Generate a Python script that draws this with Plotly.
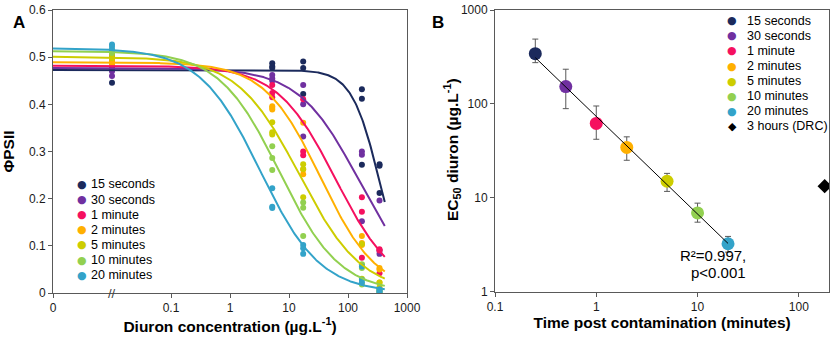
import numpy as np
import plotly.graph_objects as go

W, H = 835, 337
FONT = "Arial, 'Liberation Sans', sans-serif"
AXIS_COLOR = "#595959"

# ---------------- shared series info ----------------
series_names = ["15 seconds", "30 seconds", "1 minute", "2 minutes",
                "5 minutes", "10 minutes", "20 minutes"]
series_colors = ["#1b2a5c", "#7030a0", "#f5105f", "#ffb000",
                 "#cdcd00", "#92d050", "#33a3c9"]

# ---------------- Panel A: dose-response ----------------
# control (0 µg/L) is plotted at the axis break position (0.01)
conc_levels = [0.01, 5.2, 17.4, 172, 342]
conc_tick_vals = [0.001, 0.1, 1, 10, 100, 1000]
conc_tick_text = ["0", "0.1", "1", "10", "100", "1000"]
phi_tick_vals = [0, 0.1, 0.2, 0.3, 0.4, 0.5, 0.6]
phi_tick_text = ["0", "0.1", "0.2", "0.3", "0.4", "0.5", "0.6"]

# observed ΦPSII replicates at each concentration level
phi_15s = [[0.491, 0.477, 0.446], [0.487, 0.480, 0.477], [0.491, 0.477, 0.422],
           [0.432, 0.412, 0.272], [0.273, 0.270, 0.212]]
phi_30s = [[0.479, 0.470, 0.460], [0.462, 0.455, 0.450], [0.441, 0.400, 0.332],
           [0.300, 0.293, 0.152], [0.196, 0.090, 0.083]]
phi_1min = [[0.503, 0.497, 0.480], [0.441, 0.424, 0.415], [0.411, 0.300, 0.292],
            [0.203, 0.172, 0.075], [0.093, 0.090, 0.042]]
phi_2min = [[0.495, 0.490, 0.485], [0.396, 0.393, 0.389], [0.361, 0.262, 0.252],
            [0.121, 0.106, 0.102], [0.053, 0.050, 0.022]]
phi_5min = [[0.512, 0.505, 0.498], [0.362, 0.341, 0.336], [0.273, 0.263, 0.203],
            [0.104, 0.060, 0.030], [0.022, 0.012, 0.008]]
phi_10min = [[0.515, 0.512, 0.509], [0.311, 0.286, 0.261], [0.192, 0.181, 0.121],
             [0.061, 0.053, 0.018], [0.005, 0.003, 0.001]]
phi_20min = [[0.527, 0.522, 0.515], [0.222, 0.183, 0.180], [0.102, 0.095, 0.083],
             [0.056, 0.028, 0.022], [0.008, 0.004, 0.002]]
phi_obs = [phi_15s, phi_30s, phi_1min, phi_2min, phi_5min, phi_10min, phi_20min]

# fitted log-logistic curve parameters (top, Hill slope); EC50 shared with panel B
fit_top = [0.473, 0.477, 0.482, 0.489, 0.501, 0.513, 0.519]
fit_hill = [1.85, 0.85, 0.87, 0.91, 0.82, 0.85, 0.85]
curve_min_conc = 0.001
curve_max_conc = 420

# ---------------- Panel B: EC50 vs time ----------------
time_min = [0.25, 0.5, 1, 2, 5, 10, 20]
ec50 = [343, 153, 62, 34.4, 15.0, 6.9, 3.24]
ec50_upper = [490, 234, 95, 44.6, 18.2, 8.77, 3.88]
ec50_lower = [275, 89, 42, 25.1, 11.7, 5.5, 2.64]
drc_name = "3 hours (DRC)"
drc_time = [180]
drc_ec50 = [13.3]
time_tick_vals = [0.1, 1, 10, 100]
time_tick_text = ["0.1", "1", "10", "100"]
ec_tick_vals = [1, 10, 100, 1000]
ec_tick_text = ["1", "10", "100", "1000"]

fig = go.Figure()

# ---- Panel A traces ----
for i, name in enumerate(series_names):
    xs, ys = [], []
    for c, vals in zip(conc_levels, phi_obs[i]):
        xs += [c] * len(vals)
        ys += vals
    fig.add_trace(go.Scatter(
        x=xs, y=ys, mode="markers", name=name, showlegend=False,
        marker=dict(color=series_colors[i], size=6, line=dict(width=0)),
        xaxis="x", yaxis="y"))

xc = np.logspace(np.log10(curve_min_conc), np.log10(curve_max_conc), 400)
for i, name in enumerate(series_names):
    yc = fit_top[i] / (1 + (xc / ec50[i]) ** fit_hill[i])
    fig.add_trace(go.Scatter(
        x=xc, y=yc, mode="lines", name=name + " fit", showlegend=False,
        line=dict(color=series_colors[i], width=2),
        xaxis="x", yaxis="y"))

# ---- Panel B traces ----
for i, name in enumerate(series_names):
    fig.add_trace(go.Scatter(
        x=[time_min[i]], y=[ec50[i]], mode="markers", name=name, showlegend=False,
        marker=dict(color=series_colors[i], size=13, line=dict(width=0)),
        error_y=dict(type="data", symmetric=False,
                     array=[ec50_upper[i] - ec50[i]],
                     arrayminus=[ec50[i] - ec50_lower[i]],
                     color="#595959", thickness=1, width=3),
        xaxis="x2", yaxis="y2"))

fig.add_trace(go.Scatter(
    x=drc_time, y=drc_ec50, mode="markers", name=drc_name, showlegend=False,
    marker=dict(color="black", size=11, symbol="diamond", line=dict(width=0)),
    xaxis="x2", yaxis="y2"))

coef = np.polyfit(np.log10(time_min), np.log10(ec50), 1)
xr = np.array([time_min[0], time_min[-1]])
yr = 10 ** np.polyval(coef, np.log10(xr))
fig.add_trace(go.Scatter(
    x=xr, y=yr, mode="lines", name="power fit", showlegend=False,
    line=dict(color="black", width=1), xaxis="x2", yaxis="y2"))

# ---------------- layout ----------------
PLOT_TOP, PLOT_BOTTOM = 10, 293
PH = PLOT_BOTTOM - PLOT_TOP


def px_x(p):
    return p / W


def px_y(p):
    return (PLOT_BOTTOM - p) / PH


axis_common = dict(showline=True, linecolor=AXIS_COLOR, linewidth=1, mirror=True,
                   ticks="outside", ticklen=4, tickcolor=AXIS_COLOR, tickwidth=1,
                   showgrid=False, zeroline=False,
                   tickfont=dict(family=FONT, size=12, color="#1a1a1a"))
title_font = dict(family=FONT, size=15.5, color="black")

fig.update_layout(
    width=W, height=H,
    margin=dict(l=0, r=0, t=PLOT_TOP, b=H - PLOT_BOTTOM),
    paper_bgcolor="white", plot_bgcolor="white",
    showlegend=False,
    font=dict(family=FONT, size=12, color="black"),
    xaxis=dict(type="log", range=[-3, 3], domain=[px_x(53), px_x(407)],
               tickvals=conc_tick_vals, ticktext=conc_tick_text, anchor="y",
               title=dict(text="<b>Diuron concentration (µg.L<sup>-1</sup>)</b>",
                          font=title_font, standoff=3),
               automargin=False, **axis_common),
    yaxis=dict(range=[0, 0.6], domain=[0, 1], anchor="x",
               tickvals=phi_tick_vals, ticktext=phi_tick_text,
               title=dict(text="<b>ΦPSII</b>", font=title_font, standoff=10),
               automargin=False, **axis_common),
    xaxis2=dict(type="log", range=[-1, np.log10(200)], domain=[px_x(495), px_x(829.3)],
                tickvals=time_tick_vals, ticktext=time_tick_text, anchor="y2",
                title=dict(text="<b>Time post contamination (minutes)</b>",
                           font=title_font, standoff=3),
                automargin=False, **axis_common),
    yaxis2=dict(type="log", range=[0, 3], domain=[px_y(291.7), 1], anchor="x2",
                tickvals=ec_tick_vals, ticktext=ec_tick_text,
                automargin=False, **axis_common),
)

annotations = []
# panel letters
annotations.append(dict(text="<b>A</b>", x=px_x(11), y=px_y(11), xref="paper", yref="paper",
                        showarrow=False, font=dict(family=FONT, size=17, color="black")))
annotations.append(dict(text="<b>B</b>", x=px_x(438), y=px_y(11), xref="paper", yref="paper",
                        showarrow=False, font=dict(family=FONT, size=17, color="black")))
# B y-axis title
annotations.append(dict(text="<b>EC<sub>50</sub> diuron (µg.L<sup>-1</sup>)</b>",
                        x=px_x(452), y=px_y(150), xref="paper", yref="paper",
                        textangle=-90, showarrow=False, font=title_font))
# axis break mark on panel A x axis
annotations.append(dict(text="//", x=np.log10(conc_levels[0]), y=0, xref="x", yref="y",
                        showarrow=False, font=dict(family=FONT, size=13, color="#404040")))
# R² annotation
annotations.append(dict(text="R²=0.997,", x=px_x(748), y=px_y(266), xref="paper", yref="paper",
                        showarrow=False, font=dict(family=FONT, size=15, color="black")))
annotations.append(dict(text="p<0.001", x=px_x(748), y=px_y(283), xref="paper", yref="paper",
                        showarrow=False, font=dict(family=FONT, size=15, color="black")))

# legend A (manual, for compact row spacing)
for i, name in enumerate(series_names):
    py = 184.5 + 15.1 * i
    annotations.append(dict(text="●", x=px_x(81.7), y=px_y(py), xref="paper", yref="paper",
                            xanchor="center", yanchor="middle", showarrow=False,
                            font=dict(family="DejaVu Sans", size=11, color=series_colors[i])))
    annotations.append(dict(text=name, x=px_x(88.5), y=px_y(py), xref="paper", yref="paper",
                            xanchor="left", yanchor="middle", showarrow=False,
                            font=dict(family=FONT, size=12.5, color="black")))
# legend B
legend_b_names = series_names + [drc_name]
legend_b_colors = series_colors + ["black"]
for i, name in enumerate(legend_b_names):
    py = 20.7 + 15.1 * i
    glyph = "◆" if i == len(series_names) else "●"
    annotations.append(dict(text=glyph, x=px_x(732.3), y=px_y(py), xref="paper", yref="paper",
                            xanchor="center", yanchor="middle", showarrow=False,
                            font=dict(family="DejaVu Sans", size=11, color=legend_b_colors[i])))
    annotations.append(dict(text=name, x=px_x(744.5), y=px_y(py), xref="paper", yref="paper",
                            xanchor="left", yanchor="middle", showarrow=False,
                            font=dict(family=FONT, size=12.5, color="black")))

fig.update_layout(annotations=annotations)
fig.write_html("out.html", config={"displayModeBar": False},
               post_script="document.body.style.margin='0';")
